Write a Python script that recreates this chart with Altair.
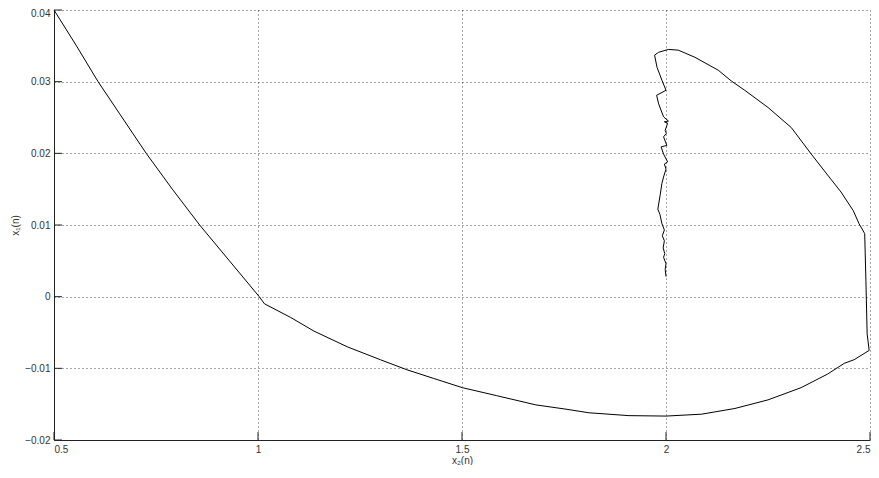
import altair as alt
import pandas as pd

# trajectory x2(n) (horizontal) and x1(n) (vertical), in drawing order
x2_vals = [
    0.500, 0.555, 0.608, 0.661, 0.726, 0.790, 0.857, 0.930, 1.003, 1.016,
    1.080, 1.137, 1.219, 1.300, 1.365, 1.430, 1.501, 1.584, 1.681, 1.755,
    1.811, 1.909, 2.000, 2.087, 2.169, 2.250, 2.331, 2.396, 2.437, 2.461,
    2.498, 2.493, 2.490, 2.487, 2.473, 2.459, 2.429, 2.404, 2.356, 2.307,
    2.250, 2.193, 2.160, 2.128, 2.071, 2.030, 2.006, 1.982, 1.972, 1.978,
    1.990, 2.000, 1.977, 1.982, 1.994, 2.006, 1.996, 2.004, 1.998, 2.001,
    1.994, 2.002, 1.988, 1.994, 2.004, 1.996, 2.000, 1.994, 1.990, 1.986,
    1.980, 1.985, 1.990, 1.996, 1.991, 1.996, 1.993, 1.997, 1.994, 2.000,
    1.998, 2.000,
]
x1_vals = [
    0.0400, 0.0350, 0.0300, 0.0255, 0.0200, 0.0150, 0.0100, 0.0050, 0.0000, -0.0010,
    -0.0029, -0.0048, -0.0070, -0.0088, -0.0102, -0.0114, -0.0127, -0.0138, -0.0151, -0.0157,
    -0.0162, -0.0166, -0.01666, -0.0164, -0.0156, -0.0144, -0.0127, -0.0108, -0.0093, -0.0088,
    -0.0075, -0.0052, 0.0022, 0.0088, 0.0102, 0.0120, 0.0146, 0.0164, 0.0199, 0.0236,
    0.0264, 0.0288, 0.0301, 0.0316, 0.0334, 0.0344, 0.0345, 0.0341, 0.0337, 0.0320,
    0.0302, 0.0288, 0.0281, 0.0269, 0.0251, 0.0245, 0.0244, 0.0242, 0.0232, 0.0228,
    0.0223, 0.0211, 0.0209, 0.0199, 0.0188, 0.0185, 0.0178, 0.0167, 0.0158, 0.0143,
    0.0122, 0.0115, 0.0102, 0.0093, 0.0085, 0.0078, 0.0068, 0.0060, 0.0055, 0.0046,
    0.0038, 0.0028,
]

x_ticks = [0.5, 1.0, 1.5, 2.0, 2.5]
y_ticks = [-0.02, -0.01, 0.0, 0.01, 0.02, 0.03, 0.04]

W, H = 816, 430
FONT = "Liberation Sans"

df = pd.DataFrame({"x2": x2_vals, "x1": x1_vals, "i": list(range(len(x2_vals)))})
xt = pd.DataFrame({"x2": x_ticks})
yt = pd.DataFrame({"x1": y_ticks})

xscale = alt.Scale(domain=[0.5, 2.5], nice=False, zero=False)
yscale = alt.Scale(domain=[-0.02, 0.04], nice=False, zero=False)

xaxis = alt.Axis(values=x_ticks, format="~g", title="x₂(n)", tickSize=0,
                 labelPadding=4, titlePadding=1)
yaxis = alt.Axis(values=y_ticks, format="~g", title="x₁(n)", tickSize=0,
                 labelPadding=4, titlePadding=4,
                 labelOffset=alt.condition("datum.value == 0.04", alt.value(3), alt.value(0)))

line = alt.Chart(df).mark_line(color="#000000", strokeWidth=1).encode(
    x=alt.X("x2:Q", scale=xscale, axis=xaxis),
    y=alt.Y("x1:Q", scale=yscale, axis=yaxis),
    order="i:O",
)

xtick_rules = alt.Chart(xt).mark_rule(color="#222222", strokeWidth=1).encode(
    x=alt.X("x2:Q", scale=xscale, axis=xaxis),
    y=alt.value(H),
    y2=alt.value(H - 8),
)
ytick_rules = alt.Chart(yt).mark_rule(color="#222222", strokeWidth=1).encode(
    y=alt.Y("x1:Q", scale=yscale, axis=yaxis),
    x=alt.value(0),
    x2=alt.value(8),
)

chart = alt.layer(line, xtick_rules, ytick_rules).properties(
    width=W, height=H,
    autosize=alt.AutoSizeParams(type="none"),
    padding={"left": 46, "top": 2, "right": 1, "bottom": 25},
    background="white",
).configure_view(stroke=None).configure_axis(
    grid=True,
    gridColor="#000000",
    gridDash=[1, 3],
    gridOpacity=0.7,
    gridWidth=1,
    domainColor="#222222",
    domainWidth=1,
    labelFont=FONT,
    labelFontSize=10,
    labelColor="#333333",
    titleFont=FONT,
    titleFontSize=10,
    titleFontWeight="normal",
    titleColor="#333333",
)

chart.save("out.html", embed_options={"renderer": "svg", "actions": False})
